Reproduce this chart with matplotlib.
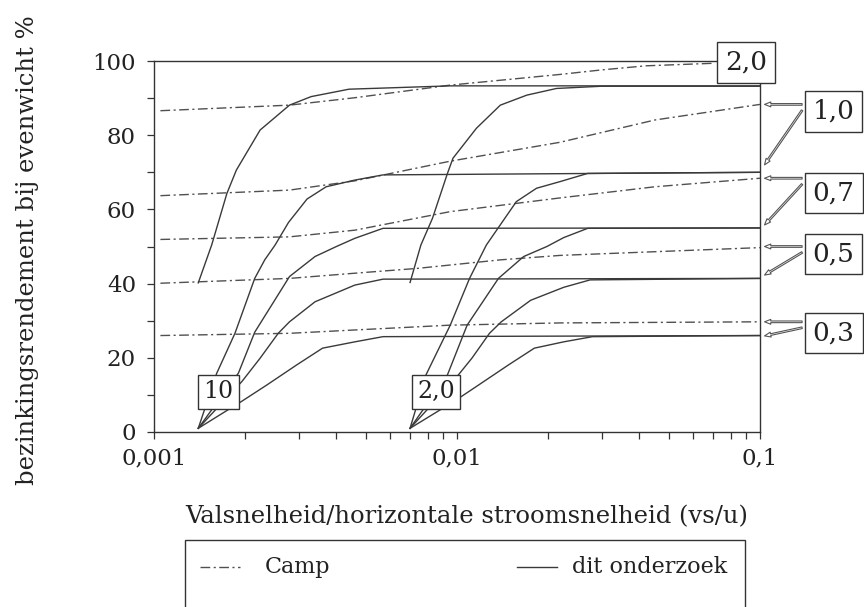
import numpy as np
import matplotlib.pyplot as plt
import matplotlib.ticker as mticker
from matplotlib.lines import Line2D
from matplotlib.patches import Rectangle

plt.rcParams['font.family'] = ['DejaVu Serif']

# --- Camp (dash-dot), one series per ratio ---
camp_x_20 = [0.00105, 0.0028, 0.0046, 0.0095, 0.022, 0.030, 0.042, 0.071]
camp_y_20 = [86.6, 88.1, 90.1, 93.5, 96.4, 97.6, 98.7, 99.4]
camp_x_10 = [0.00105, 0.0028, 0.0046, 0.0095, 0.0219, 0.045, 0.1]
camp_y_10 = [63.7, 65.2, 67.7, 73.0, 78.1, 84.1, 88.3]
camp_x_07 = [0.00105, 0.0028, 0.0046, 0.0095, 0.0219, 0.045, 0.1]
camp_y_07 = [51.9, 52.6, 54.4, 59.4, 63.1, 66.1, 68.4]
camp_x_05 = [0.00105, 0.0028, 0.0046, 0.0074, 0.0139, 0.0219, 0.1]
camp_y_05 = [40.1, 41.4, 42.8, 44.1, 46.4, 47.6, 49.7]
camp_x_03 = [0.00105, 0.0028, 0.0046, 0.0095, 0.0219, 0.1]
camp_y_03 = [26.0, 26.6, 27.5, 28.8, 29.4, 29.7]

# --- dit onderzoek, group "10" (start at vs/u = 0,0014) ---
a_x_20 = [0.0014, 0.00155, 0.00174, 0.00187, 0.00224, 0.0028, 0.0033, 0.0044, 0.0095, 0.1]
a_y_20 = [40.2, 50.4, 64.3, 70.6, 81.4, 88.1, 90.4, 92.4, 93.3, 93.3]
a_x_10 = [0.0014, 0.00161, 0.00185, 0.00215, 0.00232, 0.00251, 0.00278, 0.0032, 0.0037, 0.0046, 0.0057, 0.1]
a_y_10 = [1, 15.8, 26.6, 41.4, 46.4, 50.4, 56.5, 62.8, 66.1, 67.9, 69.3, 70.0]
a_x_07 = [0.0014, 0.0019, 0.00215, 0.0028, 0.0034, 0.0040, 0.0046, 0.0057, 0.1]
a_y_07 = [1, 15.9, 26.9, 41.9, 47.3, 50.0, 52.2, 54.9, 55.0]
a_x_05 = [0.0014, 0.00195, 0.00224, 0.00257, 0.0028, 0.0034, 0.0046, 0.0057, 0.1]
a_y_05 = [1, 13.6, 19.9, 26.6, 29.7, 35.1, 39.6, 41.2, 41.4]
a_x_03 = [0.0014, 0.00195, 0.00236, 0.00296, 0.0036, 0.0046, 0.0057, 0.1]
a_y_03 = [1, 8.3, 12.7, 18.1, 22.6, 24.3, 25.7, 26.0]

# --- dit onderzoek, group "2,0" (start at vs/u = 0,007) ---
b_x_20 = [0.0070, 0.0076, 0.0083, 0.0093, 0.0097, 0.0116, 0.0139, 0.0170, 0.0213, 0.03, 0.1]
b_y_20 = [40.3, 50.4, 57.6, 69.7, 73.8, 81.9, 88.1, 90.8, 92.6, 93.2, 93.2]
b_x_10 = [0.0070, 0.0079, 0.0095, 0.0110, 0.0125, 0.0157, 0.0183, 0.0219, 0.027, 0.1]
b_y_10 = [1, 15.4, 28.8, 41.4, 50.4, 62.1, 65.7, 67.5, 69.7, 70.0]
b_x_07 = [0.0070, 0.0093, 0.0108, 0.0137, 0.0166, 0.0198, 0.0225, 0.027, 0.1]
b_y_07 = [1, 15.4, 28.8, 41.4, 47.3, 50.0, 52.4, 54.9, 55.0]
b_x_05 = [0.0070, 0.0097, 0.0112, 0.0128, 0.0140, 0.0175, 0.0225, 0.0275, 0.1]
b_y_05 = [1, 13.6, 19.9, 26.6, 29.7, 35.5, 39.0, 41.0, 41.4]
b_x_03 = [0.0070, 0.0098, 0.0118, 0.0148, 0.0180, 0.0225, 0.0280, 0.1]
b_y_03 = [1, 8.3, 12.7, 18.1, 22.6, 24.3, 25.7, 26.0]

# right-hand labels: text, camp end y, dit onderzoek end y, label height
right_labels = ['1,0', '0,7', '0,5', '0,3']
right_camp_y = [88.3, 68.4, 50.0, 29.7]
right_dit_y = [72.0, 55.8, 42.3, 25.9]
right_box_y = [86.5, 64.4, 48.0, 26.7]

x_ticks = [0.001, 0.01, 0.1]
x_ticklabels = ['0,001', '0,01', '0,1']
y_ticks = [0, 20, 40, 60, 80, 100]

W, H = 864, 607
def fx(px):
    return px / W
def fy(py):
    return 1 - py / H

fig = plt.figure(figsize=(8.64, 6.07), dpi=100)
fig.patch.set_facecolor('white')
ax = fig.add_axes([fx(154), fy(432), fx(760) - fx(154), fy(61) - fy(432)])

LC = '#3a3a3a'
DASH = (7, 2.5, 1.5, 2.5)

camp = [(camp_x_20, camp_y_20), (camp_x_10, camp_y_10), (camp_x_07, camp_y_07),
        (camp_x_05, camp_y_05), (camp_x_03, camp_y_03)]
for xs, ys in camp:
    ax.plot(xs, ys, color='#505050', lw=1.0, dashes=DASH, clip_on=False, zorder=3)

dit = [(a_x_20, a_y_20), (a_x_10, a_y_10), (a_x_07, a_y_07), (a_x_05, a_y_05), (a_x_03, a_y_03),
       (b_x_20, b_y_20), (b_x_10, b_y_10), (b_x_07, b_y_07), (b_x_05, b_y_05), (b_x_03, b_y_03)]
for xs, ys in dit:
    ax.plot(xs, ys, color=LC, lw=1.0, zorder=3)

ax.set_xscale('log')
ax.set_xlim(0.001, 0.1)
ax.set_ylim(0, 100)
ax.set_xticks(x_ticks)
ax.set_xticklabels(x_ticklabels)
ax.xaxis.set_minor_locator(mticker.LogLocator(base=10, subs=np.arange(2, 10)))
ax.xaxis.set_minor_formatter(mticker.NullFormatter())
ax.set_yticks(y_ticks)
ax.yaxis.set_minor_locator(mticker.MultipleLocator(10))
ax.tick_params(axis='both', which='both', direction='out', length=5, width=0.9,
               color='#333333', labelsize=16.5, labelcolor='#222222')
ax.tick_params(axis='x', pad=6)
ax.tick_params(axis='y', pad=8)
for s in ax.spines.values():
    s.set_color('#333333')
    s.set_linewidth(1.0)

TXT = '#222222'
box_small = dict(boxstyle='square,pad=0.22', fc='white', ec='#333333', lw=1.0)
box_big = dict(boxstyle='square,pad=0.3', fc='white', ec='#333333', lw=1.0)

# labels of the two groups near the bottom
ax.text(0.00163, 10.8, '10', fontsize=17, color=TXT, ha='center', va='center', bbox=box_small, zorder=6)
ax.text(0.00852, 10.8, '2,0', fontsize=17, color=TXT, ha='center', va='center', bbox=box_small, zorder=6)

# top-right label sitting on the frame corner
ax.text(0.090, 99.6, '2,0', fontsize=19, color=TXT, ha='center', va='center', bbox=box_big,
        zorder=6, clip_on=False)

# right-hand labels with arrows to curve ends
arrow = dict(arrowstyle='simple,head_length=0.45,head_width=0.35,tail_width=0.12',
             fc='white', ec='#555555', lw=0.8, shrinkA=0, shrinkB=0)
x_head, x_tail, x_box = 0.1035, 0.1377, 0.175
for lab, yc, yd, yb in zip(right_labels, right_camp_y, right_dit_y, right_box_y):
    ax.text(x_box, yb, lab, fontsize=19, color=TXT, ha='center', va='center', bbox=box_big,
            zorder=6, clip_on=False)
    ax.annotate('', xy=(x_head, yc), xytext=(x_tail, yc), arrowprops=arrow, annotation_clip=False)
    ax.annotate('', xy=(x_head, yd), xytext=(x_tail, yc - 1.6), arrowprops=arrow, annotation_clip=False)

fig.text(fx(467), fy(517), 'Valsnelheid/horizontale stroomsnelheid (vs/u)', fontsize=17.5,
         color=TXT, ha='center', va='center')
fig.text(fx(28), fy(250), 'bezinkingsrendement bij evenwicht %', fontsize=17.5, color=TXT,
         rotation=90, ha='center', va='center')

# legend frame, cut by the lower page edge
fig.add_artist(Rectangle((fx(185), fy(625)), fx(745) - fx(185), fy(540) - fy(625),
                         transform=fig.transFigure, fc='white', ec='#333333', lw=1.0))
fig.add_artist(Line2D([fx(200), fx(240)], [fy(567), fy(567)], transform=fig.transFigure,
                      color='#505050', lw=1.0, dashes=DASH))
fig.text(fx(265), fy(567), 'Camp', fontsize=16, color=TXT, ha='left', va='center')
fig.add_artist(Line2D([fx(517), fx(557)], [fy(567), fy(567)], transform=fig.transFigure,
                      color=LC, lw=1.0))
fig.text(fx(572), fy(567), 'dit onderzoek', fontsize=16, color=TXT, ha='left', va='center')

fig.savefig('out.png', dpi=100)
